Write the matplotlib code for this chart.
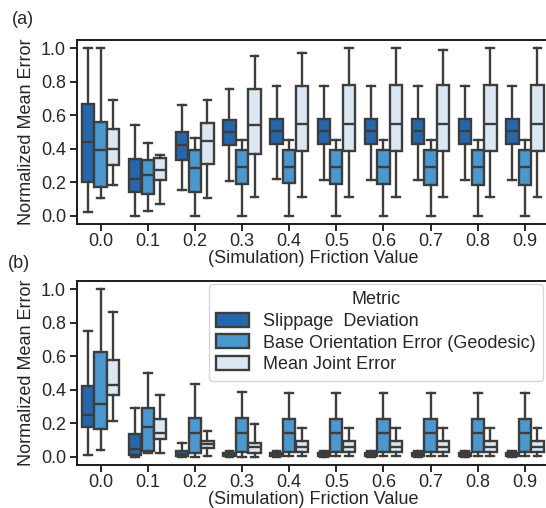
import numpy as np
import matplotlib
matplotlib.use('Agg')
from matplotlib import pyplot as plt

# friction values on the x axis
friction = ['0.0', '0.1', '0.2', '0.3', '0.4', '0.5', '0.6', '0.7', '0.8', '0.9']
metrics = ['Slippage  Deviation', 'Base Orientation Error (Geodesic)', 'Mean Joint Error']

# box stats per friction value: [whisker low, q1, median, q3, whisker high]
a_slip = [[0.02, 0.20, 0.44, 0.67, 1.00],
          [0.00, 0.14, 0.22, 0.34, 0.54],
          [0.155, 0.33, 0.42, 0.50, 0.66],
          [0.21, 0.42, 0.50, 0.57, 0.76],
          [0.22, 0.43, 0.505, 0.58, 0.775],
          [0.215, 0.43, 0.505, 0.58, 0.775],
          [0.215, 0.43, 0.505, 0.58, 0.775],
          [0.215, 0.43, 0.505, 0.58, 0.775],
          [0.215, 0.43, 0.505, 0.58, 0.775],
          [0.215, 0.43, 0.505, 0.58, 0.775]]
a_base = [[0.105, 0.17, 0.39, 0.56, 1.00],
          [0.025, 0.13, 0.245, 0.33, 0.435],
          [0.00, 0.14, 0.285, 0.39, 0.465],
          [0.00, 0.19, 0.29, 0.39, 0.455],
          [0.00, 0.195, 0.292, 0.39, 0.455],
          [0.00, 0.19, 0.292, 0.39, 0.455],
          [0.00, 0.19, 0.292, 0.39, 0.455],
          [0.00, 0.185, 0.292, 0.39, 0.455],
          [0.00, 0.185, 0.292, 0.39, 0.455],
          [0.00, 0.185, 0.292, 0.39, 0.455]]
a_joint = [[0.185, 0.305, 0.40, 0.52, 0.69],
           [0.07, 0.215, 0.275, 0.345, 0.365],
           [0.105, 0.31, 0.445, 0.555, 0.69],
           [0.11, 0.37, 0.54, 0.76, 0.955],
           [0.11, 0.385, 0.545, 0.775, 0.975],
           [0.11, 0.385, 0.547, 0.78, 1.00],
           [0.11, 0.385, 0.547, 0.78, 1.00],
           [0.11, 0.385, 0.547, 0.78, 0.99],
           [0.11, 0.385, 0.547, 0.78, 1.00],
           [0.11, 0.385, 0.547, 0.78, 1.00]]

b_slip = [[0.01, 0.18, 0.25, 0.42, 0.75],
          [0.00, 0.008, 0.048, 0.133, 0.29],
          [0.00, 0.006, 0.018, 0.032, 0.082],
          [0.00, 0.004, 0.012, 0.02, 0.036],
          [0.00, 0.004, 0.012, 0.02, 0.036],
          [0.00, 0.004, 0.012, 0.02, 0.036],
          [0.00, 0.004, 0.012, 0.02, 0.036],
          [0.00, 0.004, 0.012, 0.02, 0.036],
          [0.00, 0.004, 0.012, 0.02, 0.036],
          [0.00, 0.004, 0.012, 0.02, 0.036]]
b_base = [[0.04, 0.165, 0.315, 0.625, 1.00],
          [0.024, 0.036, 0.177, 0.292, 0.50],
          [0.00, 0.024, 0.139, 0.231, 0.433],
          [0.00, 0.028, 0.139, 0.231, 0.384],
          [0.005, 0.03, 0.143, 0.225, 0.378],
          [0.005, 0.03, 0.143, 0.225, 0.378],
          [0.005, 0.03, 0.143, 0.225, 0.378],
          [0.005, 0.03, 0.143, 0.225, 0.378],
          [0.005, 0.03, 0.143, 0.225, 0.378],
          [0.005, 0.03, 0.143, 0.225, 0.378]]
b_joint = [[0.215, 0.37, 0.427, 0.579, 0.867],
           [0.024, 0.105, 0.139, 0.227, 0.37],
           [0.006, 0.052, 0.074, 0.093, 0.153],
           [0.00, 0.024, 0.056, 0.083, 0.195],
           [0.006, 0.03, 0.06, 0.095, 0.173],
           [0.006, 0.03, 0.06, 0.095, 0.173],
           [0.006, 0.03, 0.06, 0.095, 0.173],
           [0.006, 0.03, 0.06, 0.095, 0.173],
           [0.006, 0.03, 0.06, 0.095, 0.173],
           [0.006, 0.03, 0.06, 0.095, 0.173]]

colors = ['#2467ab', '#4b98cf', '#dbe8f4']
edge = '#3d3d3d'

plt.rcParams['font.family'] = ['Liberation Sans', 'DejaVu Sans']
plt.rcParams['font.size'] = 13
plt.rcParams['text.color'] = '.15'
plt.rcParams['axes.labelcolor'] = '.15'
plt.rcParams['xtick.color'] = '.15'
plt.rcParams['ytick.color'] = '.15'


def draw_panel(ax, series):
    n = len(series)
    w = 0.8/n
    x = np.arange(len(friction))
    for k, (data, col) in enumerate(zip(series, colors)):
        stats = [dict(whislo=s[0], q1=s[1], med=s[2], q3=s[3], whishi=s[4]) for s in data]
        pos = x - 0.4 + w*(k + 0.5)
        bp = ax.bxp(stats, positions=pos, widths=w*0.98, patch_artist=True,
                    showfliers=False, capwidths=w*0.62, manage_ticks=False,
                    boxprops=dict(facecolor=col, edgecolor=edge, linewidth=1.7),
                    whiskerprops=dict(color=edge, linewidth=1.7),
                    capprops=dict(color=edge, linewidth=1.7),
                    medianprops=dict(color=edge, linewidth=1.7))
        bp['boxes'][0].set_label(metrics[k])
    ax.set_xticks(x)
    ax.set_xticklabels(friction)
    ax.set_xlim(-0.5, 9.5)
    ax.set_ylim(-0.05, 1.05)
    ax.set_yticks([0.0, 0.2, 0.4, 0.6, 0.8, 1.0])
    ax.set_xlabel('(Simulation) Friction Value', labelpad=0)
    ax.set_ylabel('Normalized Mean Error')
    for sp in ax.spines.values():
        sp.set_linewidth(1.4)
        sp.set_color('.1')
    ax.tick_params(length=5, width=1.4, pad=3)
    ax.tick_params(axis='x', pad=1.5)


fig = plt.figure(figsize=(5.46, 5.08), dpi=100)
ax1 = fig.add_axes([77/546, 1-224/508, 471.5/546, 184/508])
ax2 = fig.add_axes([77/546, 1-465/508, 471.5/546, 184/508])

draw_panel(ax1, [a_slip, a_base, a_joint])
draw_panel(ax2, [b_slip, b_base, b_joint])

ax2.legend(title='Metric', loc='upper right', bbox_to_anchor=(543/546, 1-284/508),
           bbox_transform=fig.transFigure, fontsize=13, title_fontsize=13,
           borderaxespad=0, handlelength=1.8, handleheight=0.8,
           labelspacing=0.25, borderpad=0.4, framealpha=0.8, edgecolor='0.8')

fig.text(12/546, 1-19/508, '(a)', fontsize=13, va='center')
fig.text(8/546, 1-263/508, '(b)', fontsize=13, va='center')

plt.savefig('out.png', dpi=100)
